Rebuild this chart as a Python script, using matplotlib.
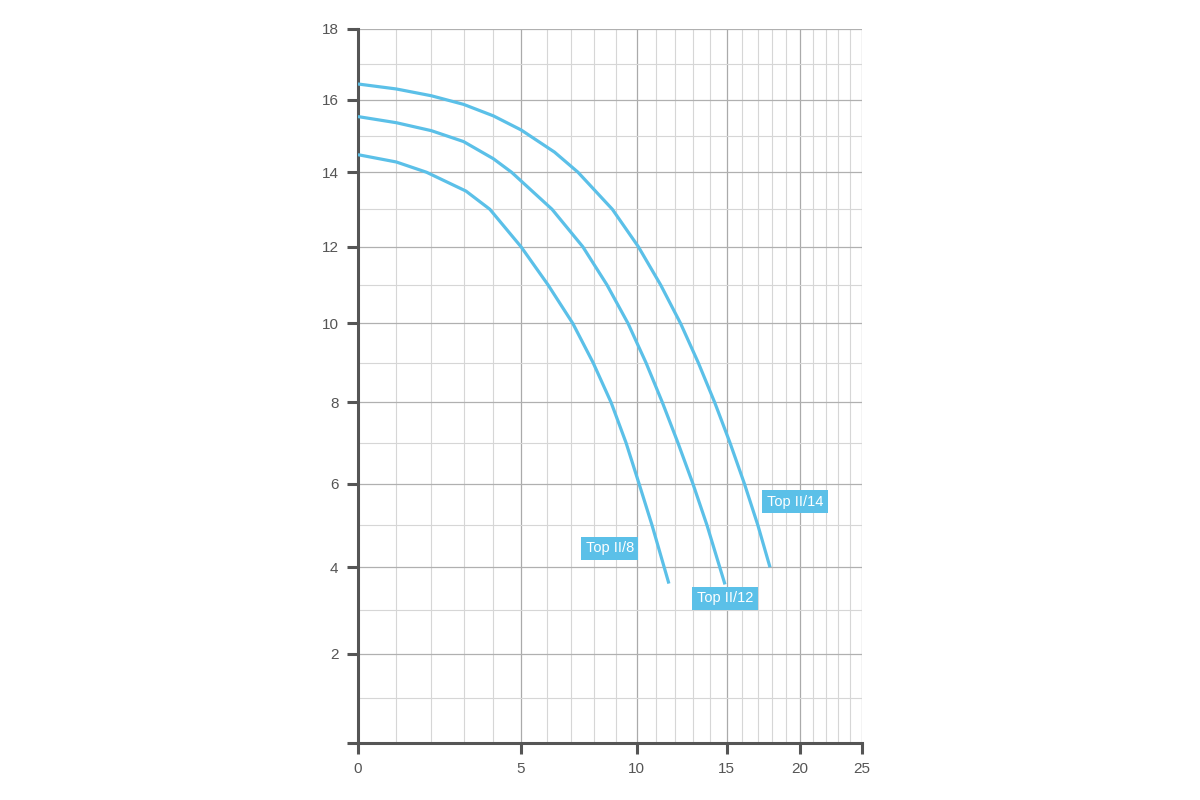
import numpy as np
import matplotlib
matplotlib.use("Agg")
import matplotlib.pyplot as plt
from matplotlib.ticker import FixedLocator, NullFormatter

# pump curves: flow (x) vs head (y)
top8_x = [0, 1, 1.86, 3.08, 3.88, 5.0, 6.04, 7.06, 7.94, 8.76, 9.47, 10.11, 10.77, 11.66]
top8_y = [14.48, 14.28, 14.0, 13.49, 13.0, 12.0, 11.0, 10.0, 9.0, 8.0, 7.0, 6.0, 5.0, 3.62]

top12_x = [0, 1, 2, 3, 4, 4.65, 6.2, 7.49, 8.57, 9.57, 10.46, 11.31, 12.15, 12.99, 13.81, 14.9]
top12_y = [15.53, 15.36, 15.14, 14.84, 14.37, 14.0, 13.0, 12.0, 11.0, 10.0, 9.0, 8.0, 7.0, 6.0, 5.0, 3.6]

top14_x = [0, 1, 2, 3, 4, 5, 6.3, 7.28, 8.82, 10.08, 11.22, 12.3, 13.3, 14.27, 15.21, 16.13, 17.02, 17.85]
top14_y = [16.44, 16.30, 16.11, 15.87, 15.55, 15.16, 14.55, 14.0, 13.0, 12.0, 11.0, 10.0, 9.0, 8.0, 7.0, 6.0, 5.0, 4.0]

labels = ["Top II/8", "Top II/12", "Top II/14"]
label_x = [8.71, 14.9, 19.63]
label_y = [4.45, 3.28, 5.56]

x_ticks = [0, 5, 10, 15, 20, 25]
y_ticks = [0, 2, 4, 6, 8, 10, 12, 14, 16, 18]

CURVE = "#5bc0e8"
DARK = "#555555"

plt.rcParams["font.family"] = ["Liberation Sans", "DejaVu Sans"]

fig = plt.figure(figsize=(12, 8), dpi=100)
ax = fig.add_axes([0.2983, 0.07125, 0.42, 0.8925])

# compressed scales as on the original chart paper
ax.set_xscale("function", functions=(lambda v: np.log10(np.maximum(v + 10, 1e-9)),
                                     lambda v: 10 ** v - 10))
ax.set_yscale("function", functions=(lambda v: np.log10(np.maximum(v + 60, 1e-9)),
                                     lambda v: 10 ** v - 60))
ax.set_xlim(0, 25)
ax.set_ylim(0, 18)

for xs, ys in [(top8_x, top8_y), (top12_x, top12_y), (top14_x, top14_y)]:
    ax.plot(xs, ys, color=CURVE, lw=2.3, solid_capstyle="butt",
            solid_joinstyle="round", zorder=4)

for txt, lx, ly in zip(labels, label_x, label_y):
    ax.text(lx, ly, txt, ha="center", va="center", fontsize=10.5, color="white", zorder=5,
            bbox=dict(boxstyle="square,pad=0.3", fc=CURVE, ec="none"))

# ticks and grid
ax.xaxis.set_major_locator(FixedLocator(x_ticks))
ax.xaxis.set_minor_locator(FixedLocator([v for v in range(26) if v % 5]))
ax.yaxis.set_major_locator(FixedLocator(y_ticks))
ax.yaxis.set_minor_locator(FixedLocator(list(range(1, 18, 2))))
ax.set_xticklabels([str(v) for v in x_ticks])
ax.set_yticklabels(["" if v == 0 else str(v) for v in y_ticks])
ax.xaxis.set_minor_formatter(NullFormatter())
ax.yaxis.set_minor_formatter(NullFormatter())

ax.tick_params(which="major", direction="out", length=8, width=2.2, color=DARK,
               labelcolor=DARK, labelsize=11, pad=6)
ax.tick_params(which="minor", length=0)

ax.grid(which="major", axis="x", color="#aaaaaa", lw=0.9, zorder=0)
ax.grid(which="minor", axis="x", color="#d6d6d6", lw=0.8, zorder=0)
ax.grid(which="major", axis="y", color="#b0b0b0", lw=0.9, zorder=0)
ax.grid(which="minor", axis="y", color="#d6d6d6", lw=0.8, zorder=0)
ax.set_axisbelow(True)

ax.spines[["top", "right"]].set_visible(False)
for side in ["left", "bottom"]:
    ax.spines[side].set_color(DARK)
    ax.spines[side].set_linewidth(2.2)

fig.savefig("out.png", dpi=100)
